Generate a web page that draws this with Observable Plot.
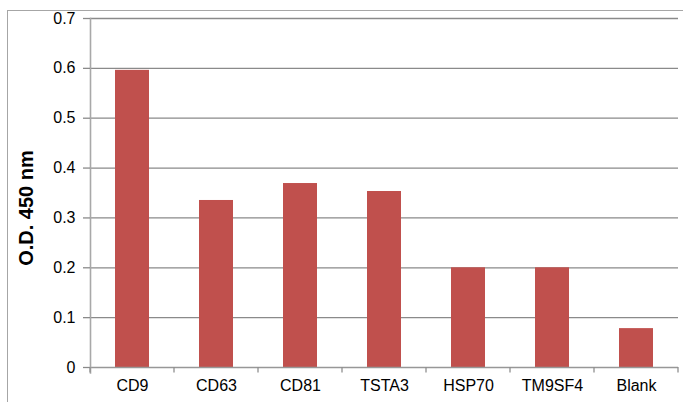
<!DOCTYPE html>
<html><head><meta charset="utf-8">
<script src="https://cdn.jsdelivr.net/npm/d3@7"></script>
<script src="https://cdn.jsdelivr.net/npm/@observablehq/plot@0.6"></script>
<style>
body{margin:0;background:#fff;}
#wrap{position:relative;width:683px;height:402px;overflow:hidden;font-family:"Liberation Sans",Arial,sans-serif;}
#wrap svg{position:absolute;left:0;top:0;}
#border{position:absolute;left:7px;top:10px;width:700px;height:420px;border:1px solid #a6a6a6;box-sizing:border-box;pointer-events:none;}
</style></head><body><div id="wrap"><div id="border"></div></div>
<script>
const categories = ["CD9", "CD63", "CD81", "TSTA3", "HSP70", "TM9SF4", "Blank"];
const values = [0.596, 0.335, 0.369, 0.353, 0.2, 0.2, 0.078];
const yTicks = [0, 0.1, 0.2, 0.3, 0.4, 0.5, 0.6, 0.7];
const yLabel = "O.D. 450 nm";

const data = categories.map((c, i) => ({category: c, value: values[i]}));

function xBoundaryTicks(index, scales) {
  const x = scales.x, y = scales.y;
  const desc = scales.scales && scales.scales.x;
  let step = desc && desc.step ? desc.step : (x.step ? x.step() : x(categories[1]) - x(categories[0]));
  let bw = desc && desc.bandwidth ? desc.bandwidth : (x.bandwidth ? x.bandwidth() : step * 0.4);
  const y0 = y(0);
  const bounds = categories.map(c => x(c) - (step - bw) / 2);
  bounds.push(x(categories[categories.length - 1]) + bw + (step - bw) / 2);
  const g = d3.create("svg:g").attr("stroke", "#8f8f8f").attr("stroke-width", 1.3);
  for (const b of bounds) {
    g.append("line").attr("x1", b).attr("x2", b).attr("y1", y0).attr("y2", y0 + 5.5);
  }
  return g.node();
}

const chart = Plot.plot({
  width: 683, height: 402,
  marginLeft: 90, marginRight: 5, marginTop: 18, marginBottom: 35,
  style: {fontFamily: "Liberation Sans, Arial, sans-serif", fontSize: "16px", color: "#000", background: "transparent"},
  x: {domain: categories, paddingInner: 0.6, paddingOuter: 0.3},
  y: {domain: [0, 0.7]},
  marks: [
    Plot.gridY(yTicks.filter(t => t > 0), {stroke: "#8a8a8a", strokeOpacity: 1, strokeWidth: 1.3}),
    Plot.barY(data, {x: "category", y: "value", fill: "#c0504d"}),
    Plot.ruleY([0], {stroke: "#979797", strokeWidth: 1.3}),
    Plot.frame({anchor: "left", stroke: "#a8a8a8", strokeWidth: 1.6, insetBottom: -5.5}),
    Plot.axisY({ticks: yTicks, tickSize: 7, tickPadding: 8, stroke: "#8a8a8a", strokeWidth: 1.3, strokeOpacity: 1,
      tickFormat: d => d === 0 ? "0" : d.toFixed(1), label: null, fontSize: 16, fill: "#000"}),
    Plot.axisX({tickSize: 0, tickPadding: 12, label: null, fontSize: 16, fill: "#000"}),
    xBoundaryTicks,
    Plot.text([yLabel], {frameAnchor: "left", textAnchor: "middle", rotate: -90, dx: -64, dy: 15, fontSize: 20, fontWeight: "bold", fill: "#000"})
  ]
});
document.getElementById("wrap").prepend(chart);
</script>
</body></html>
